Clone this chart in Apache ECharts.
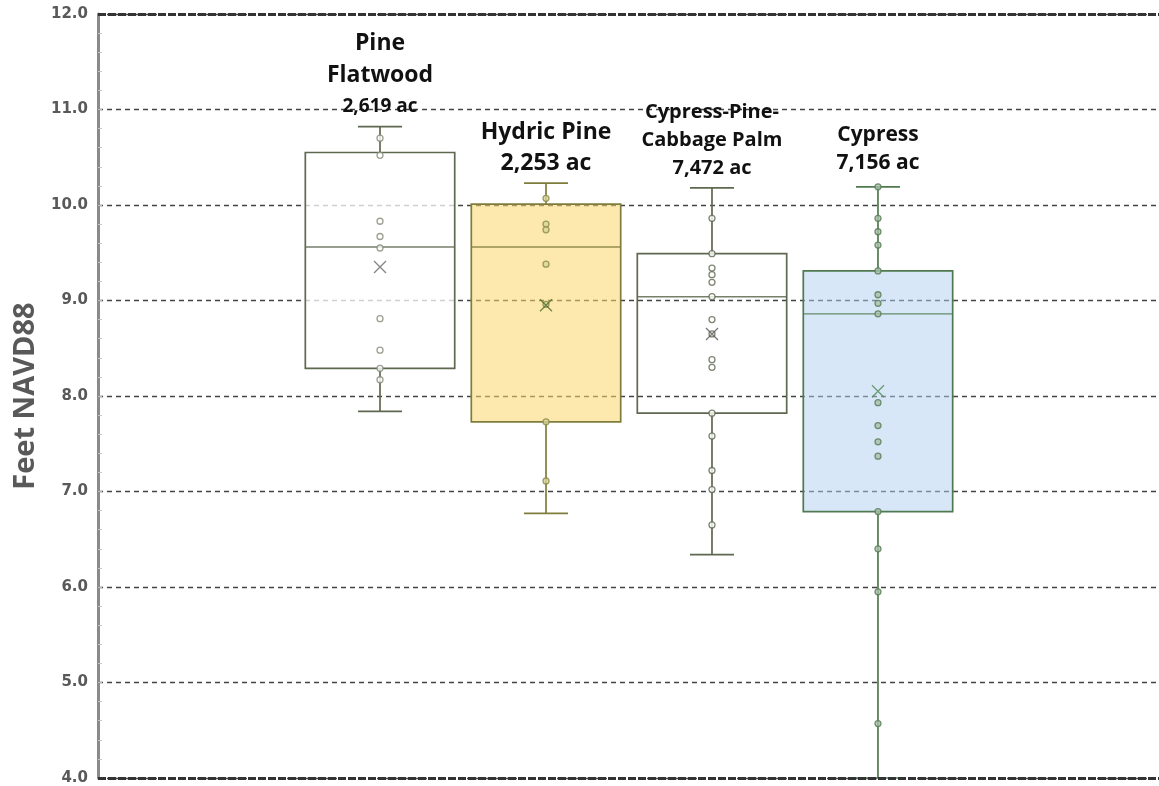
<!DOCTYPE html>
<html><head><meta charset="utf-8">
<script src="https://cdn.jsdelivr.net/npm/echarts@6/dist/echarts.min.js"></script>
<style>html,body{margin:0;padding:0;background:#fff}#chart{width:1159px;height:786px}</style>
</head><body><div id="chart"></div>
<script>
// ---- data ----
const categories = ['Pine Flatwood', 'Hydric Pine', 'Cypress-Pine-Cabbage Palm', 'Cypress'];
const titleLines = [['Pine', 'Flatwood'], ['Hydric Pine'], ['Cypress-Pine-', 'Cabbage Palm'], ['Cypress']];
const areaLabels = ['2,619 ac', '2,253 ac', '7,472 ac', '7,156 ac'];
const boxMin    = [7.84, 6.77, 6.34, 4.00];
const boxQ1     = [8.29, 7.73, 7.82, 6.79];
const boxMedian = [9.56, 9.56, 9.04, 8.86];
const boxQ3     = [10.55, 10.01, 9.49, 9.31];
const boxMax    = [10.82, 10.23, 10.18, 10.19];
const boxMean   = [9.35, 8.95, 8.65, 8.05];
const pointsPineFlatwood = [10.70, 10.52, 9.83, 9.67, 9.55, 8.81, 8.48, 8.29, 8.17];
const pointsHydricPine   = [10.07, 9.80, 9.74, 9.38, 8.96, 7.73, 7.11];
const pointsCypressPineCabbage = [9.86, 9.49, 9.34, 9.27, 9.19, 9.04, 8.80, 8.65, 8.38, 8.30, 7.82, 7.58, 7.22, 7.02, 6.65];
const pointsCypress = [10.19, 9.86, 9.72, 9.58, 9.31, 9.06, 8.97, 8.86, 7.93, 7.69, 7.52, 7.37, 6.79, 6.40, 5.95, 4.57];
const yTickLabels = ['4.0', '5.0', '6.0', '7.0', '8.0', '9.0', '10.0', '11.0', '12.0'];
const yMin = 4, yMax = 12;

// ---- styles ----
const boxStroke = ['#5f6850', '#7f7d3c', '#5f6850', '#4f7a4f'];
const boxFill   = ['rgba(255,255,255,0.75)', 'rgba(252,214,108,0.56)', 'rgba(255,255,255,0)', 'rgba(178,208,240,0.5)'];
const ptStroke  = ['#858a78', '#8a8a45', '#5f6850', '#557a55'];
const ptFill    = ['#ffffff', '#d8d49a', '#ffffff', '#a9bfa9'];
const meanColor = ['#666666', '#4f6a2c', '#555555', '#4f8a4f'];

const allPoints = [pointsPineFlatwood, pointsHydricPine, pointsCypressPineCabbage, pointsCypress];

const chart = echarts.init(document.getElementById('chart'));

const boxData = categories.map((c, i) => [i + 1, boxMin[i], boxQ1[i], boxMedian[i], boxQ3[i], boxMax[i]]);

function renderBox(params, api) {
  const i = params.dataIndex;
  const x = api.value(0);
  const pMin = api.coord([x, api.value(1)]);
  const pQ1 = api.coord([x, api.value(2)]);
  const pMed = api.coord([x, api.value(3)]);
  const pQ3 = api.coord([x, api.value(4)]);
  const pMax = api.coord([x, api.value(5)]);
  const unit = api.size([1, 0])[0];
  const bw = unit * 0.9;
  const cw = unit * 0.265;
  const st = { stroke: boxStroke[i], lineWidth: 1.7 };
  return {
    type: 'group',
    children: [
      { type: 'line', shape: { x1: pMin[0], y1: pMin[1], x2: pQ1[0], y2: pQ1[1] }, style: st },
      { type: 'line', shape: { x1: pQ3[0], y1: pQ3[1], x2: pMax[0], y2: pMax[1] }, style: st },
      { type: 'line', shape: { x1: pMin[0] - cw / 2, y1: pMin[1], x2: pMin[0] + cw / 2, y2: pMin[1] }, style: st },
      { type: 'line', shape: { x1: pMax[0] - cw / 2, y1: pMax[1], x2: pMax[0] + cw / 2, y2: pMax[1] }, style: st },
      { type: 'rect', shape: { x: pQ1[0] - bw / 2, y: pQ3[1], width: bw, height: pQ1[1] - pQ3[1] },
        style: { fill: boxFill[i], stroke: boxStroke[i], lineWidth: 1.7 } },
      { type: 'line', shape: { x1: pMed[0] - bw / 2, y1: pMed[1], x2: pMed[0] + bw / 2, y2: pMed[1] },
        style: { stroke: boxStroke[i], lineWidth: 1.4, opacity: 0.85 } }
    ]
  };
}

const series = [
  {
    type: 'custom', name: 'box', renderItem: renderBox, data: boxData,
    encode: { x: 0, y: [1, 2, 3, 4, 5] }, z: 2, clip: false,
    markLine: {
      silent: true, symbol: 'none', label: { show: false },
      lineStyle: { color: '#333', width: 3, type: [8, 2] },
      data: [{ yAxis: yMax }, { yAxis: yMin }]
    }
  }
];
allPoints.forEach((pts, i) => {
  series.push({
    type: 'scatter', name: categories[i] + ' points',
    data: pts.map(v => [i + 1, v]),
    symbol: 'circle', symbolSize: 6, z: 3,
    itemStyle: { color: ptFill[i], borderColor: ptStroke[i], borderWidth: 1.3 }
  });
});
series.push({
  type: 'scatter', name: 'mean',
  data: boxMean.map((v, i) => ({ value: [i + 1, v], itemStyle: { borderColor: meanColor[i] } })),
  symbol: 'path://M0,0L10,10M10,0L0,10', symbolSize: 12, z: 4,
  itemStyle: { color: 'none', borderWidth: 1.3 }
});

// labels above boxes (anchored to data x positions)
const graphics = [];
const gridLeft = 98, gridRight = 0, W = 1159;
const xMinV = -0.699, xMaxV = 5.693;
function xPix(v) { return gridLeft + (v - xMinV) / (xMaxV - xMinV) * (W - gridLeft - gridRight); }
const labelSpec = [
  { ys: [43, 75], sizes: [23, 23], areaY: 107, areaSize: 19 },
  { ys: [132], sizes: [23], areaY: 163, areaSize: 23 },
  { ys: [112, 140], sizes: [20, 20], areaY: 168, areaSize: 20 },
  { ys: [135], sizes: [21], areaY: 163, areaSize: 21 }
];
categories.forEach((c, i) => {
  const cx = xPix(i + 1);
  titleLines[i].forEach((t, k) => {
    graphics.push({ type: 'text', x: cx, y: labelSpec[i].ys[k], z: 10,
      style: { text: t, fill: '#111', font: '700 ' + labelSpec[i].sizes[k] + 'px "Open Sans"', textAlign: 'center', textVerticalAlign: 'middle' } });
  });
  graphics.push({ type: 'text', x: cx, y: labelSpec[i].areaY, z: 10,
    style: { text: areaLabels[i], fill: '#111', font: '700 ' + labelSpec[i].areaSize + 'px "Open Sans"', textAlign: 'center', textVerticalAlign: 'middle' } });
});

chart.setOption({
  animation: false,
  backgroundColor: '#fff',
  grid: { left: gridLeft, right: gridRight, top: 14, bottom: 8 },
  xAxis: { type: 'value', min: xMinV, max: xMaxV, show: false, splitLine: { show: false } },
  yAxis: {
    type: 'value', min: yMin, max: yMax, interval: 1,
    axisLine: { show: true, onZero: false, lineStyle: { color: '#8a8a8a', width: 3 } },
    axisTick: { show: true, inside: true, length: 4, lineStyle: { color: '#bdbdbd' } },
    minorTick: { show: true, splitNumber: 5, length: 4, lineStyle: { color: '#c8c8c8' } },
    axisLabel: {
      formatter: v => yTickLabels[Math.round(v - yMin)],
      color: '#595959', fontFamily: 'DejaVu Sans', fontWeight: 'bold', fontSize: 15, margin: 10
    },
    splitLine: { show: true, lineStyle: { type: [5, 4], color: '#444', width: 1.3 } },
    name: 'Feet NAVD88', nameLocation: 'middle', nameGap: 46, nameRotate: 90,
    nameTextStyle: { color: '#595959', fontFamily: 'Open Sans', fontWeight: 'bold', fontSize: 29 }
  },
  graphic: graphics,
  series: series
});
</script>
</body></html>
